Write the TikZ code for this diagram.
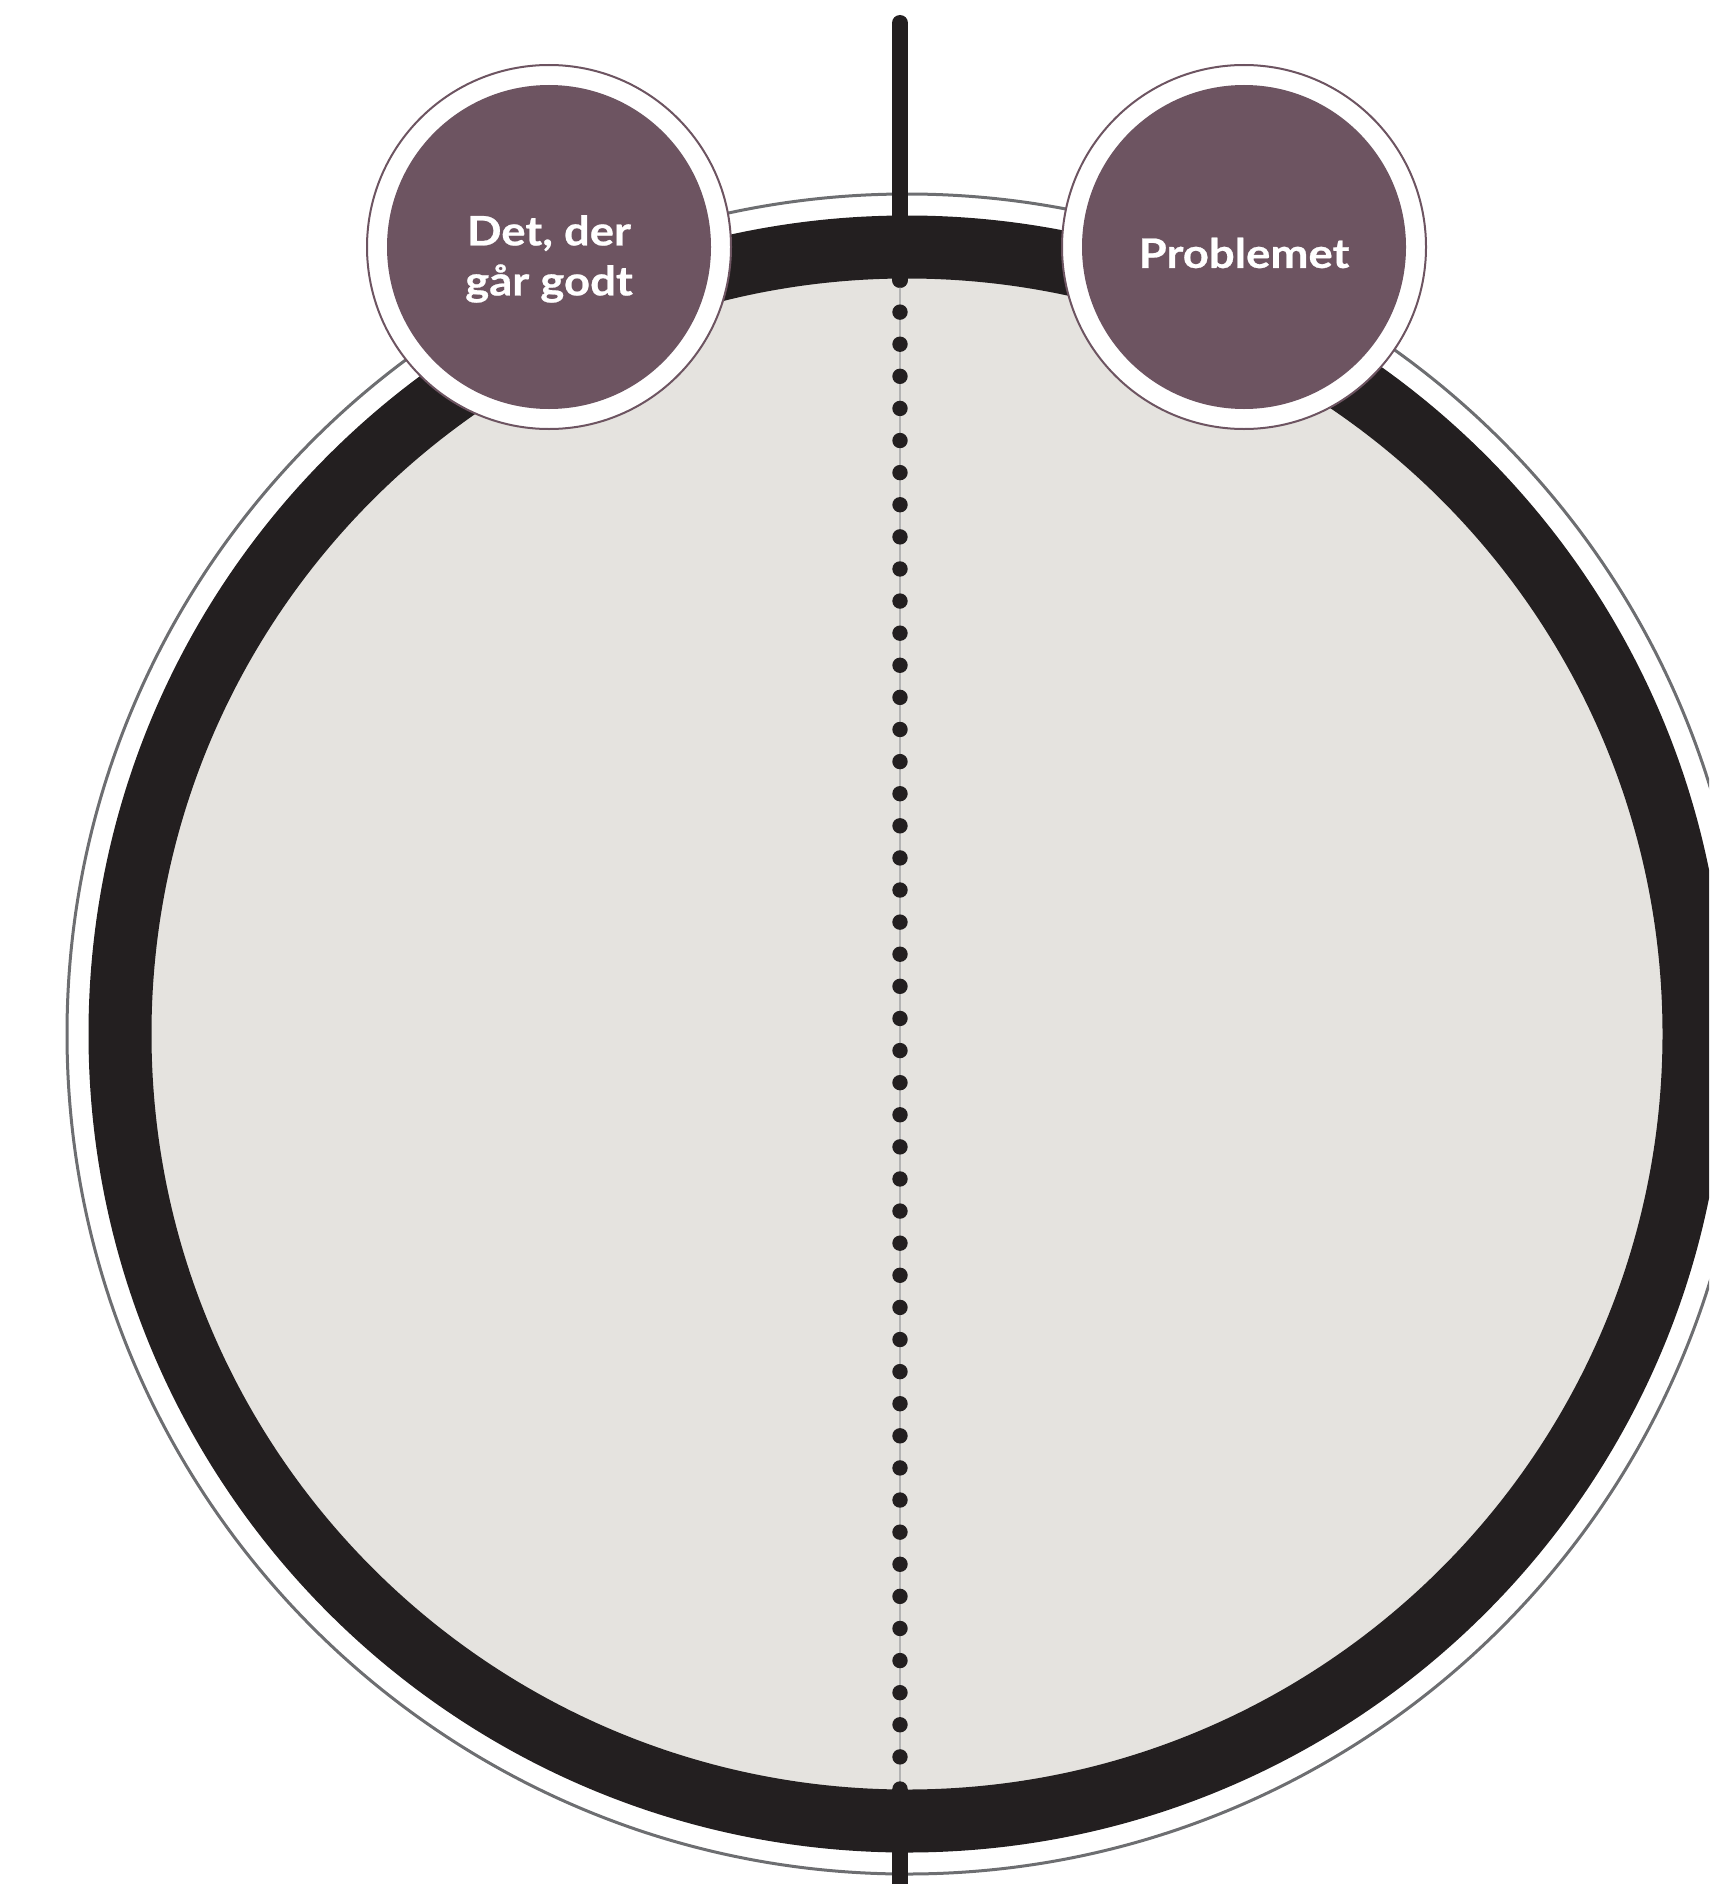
\documentclass[tikz,border=0pt]{standalone}
\usepackage{fontspec}
\setmainfont{Lato}
\newfontfamily\disclabelfont{Lato}[FakeStretch=1.12, BoldFeatures={FakeBold=0.6}]
\definecolor{ringblack}{HTML}{231F20}
\definecolor{discfill}{HTML}{E5E3DF}
\definecolor{outergray}{HTML}{6D6E71}
\definecolor{axisgray}{HTML}{B3B3B3}
\definecolor{plum}{HTML}{6D5461}
\tikzset{
  outerdisc/.style={circle, draw=plum, line width=1pt, fill=white, minimum size=364*0.5pt, inner sep=0pt},
  innerdisc/.style={circle, fill=plum, minimum size=324*0.5pt, inner sep=0pt},
  disclabel/.style={text=white, font=\disclabelfont\fontsize{20.3pt}{25pt}\selectfont\bfseries, align=center, inner sep=0pt},
  axisline/.style={draw=ringblack, line width=8pt, line cap=round},
  axisdot/.style={fill=ringblack},
}
\begin{document}
\begin{tikzpicture}[x=0.5pt,y=-0.5pt]
\useasboundingbox (0,0) rectangle (1709,1884);
\clip (0,0) rectangle (1709,1884);
% outer thin gray circle
\coordinate (C) at (907,1034);
\draw[outergray, line width=1.5pt] (C) circle [radius=420pt];
% black ring with light fill
\draw[ringblack, line width=31.5pt, fill=discfill] (C) circle [radius=393.5pt];
% axis
\coordinate (axtop) at (900,23);
\coordinate (ringtop) at (900,280);
\coordinate (ringbot) at (900,1789);
\coordinate (axbot) at (900,1900);
\draw[axisline] (axtop) -- (ringtop);
\draw[draw=ringblack, line width=8pt] (ringbot) -- (axbot);
\draw[axisgray, line width=0.6pt] (ringtop) -- (ringbot);
\foreach \i in {0,...,47}
  \fill[axisdot] (900,{280+\i*32.106}) circle [radius=3.85pt];
% label discs
\node[outerdisc] (goodout) at (549,247) {};
\node[innerdisc] (good) at (549,247) {};
\node[disclabel] (goodtxt) at (549,259) {Det, der\\går godt};
\node[outerdisc] (probout) at (1244,247) {};
\node[innerdisc] (prob) at (1244,247) {};
\node[disclabel] (probtxt) at (1244,253) {Problemet};
\end{tikzpicture}
\end{document}
